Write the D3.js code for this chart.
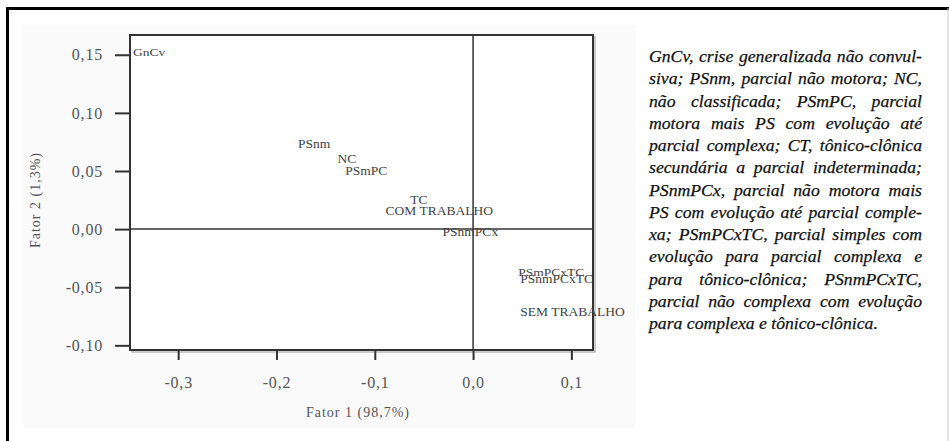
<!DOCTYPE html>
<html>
<head>
<meta charset="utf-8">
<script src="https://cdn.jsdelivr.net/npm/d3@7"></script>
<style>
  body { margin: 0; background: #fff; }
</style>
</head>
<body>
<svg id="chart" width="949" height="441"></svg>
<script>
// categories and their coordinates on the two factors
const labels = ["GnCv", "PSnm", "NC", "PSmPC", "TC", "COM TRABALHO", "PSnmPCx", "PSmPCxTC", "PSnmPCxTC", "SEM TRABALHO"];
const fator1 = [-0.346, -0.178, -0.138, -0.130, -0.064, -0.089, -0.031, 0.046, 0.048, 0.048];
const fator2 = [0.152, 0.074, 0.061, 0.051, 0.026, 0.016, -0.002, -0.037, -0.042, -0.071];

const xTicks = [-0.3, -0.2, -0.1, 0, 0.1];
const yTicks = [0.15, 0.10, 0.05, 0, -0.05, -0.10];
const xTitle = "Fator 1 (98,7%)";
const yTitle = "Fator 2 (1,3%)";

const notes = [
    "GnCv, crise generalizada não convul-",
    "siva; PSnm, parcial não motora; NC,",
    "não classificada; PSmPC, parcial",
    "motora mais PS com evolução até",
    "parcial complexa; CT, tônico-clônica",
    "secundária a parcial indeterminada;",
    "PSnmPCx, parcial não motora mais",
    "PS com evolução até parcial comple-",
    "xa; PSmPCxTC, parcial simples com",
    "evolução para parcial complexa e",
    "para tônico-clônica; PSnmPCxTC,",
    "parcial não complexa com evolução",
    "para complexa e tônico-clônica."
];

const serif = "'Liberation Serif', 'Times New Roman', Times, serif";

let svg = d3.select("#chart").attr("font-family", serif);

// page frame
svg.append("rect")
    .attr("x", 23).attr("y", 25).attr("width", 612).attr("height", 403)
    .attr("fill", "#fafafa");
svg.append("path")
    .attr("d", "M7.5,441 V8.5 H949")
    .attr("fill", "none").attr("stroke", "#000").attr("stroke-width", 3);
svg.append("line")
    .attr("x1", 948).attr("x2", 948).attr("y1", 8).attr("y2", 441)
    .attr("stroke", "#ccc");

// scales
let x = d3.scaleLinear().domain([-0.349, 0.122]).range([130, 593]);
let y = d3.scaleLinear().domain([-0.104, 0.167]).range([350, 35]);

const loc = d3.formatLocale({decimal: ",", thousands: ".", grouping: [3], currency: ["", ""], minus: "-"});

// plot box (with a faint shadow)
svg.append("rect")
    .attr("x", 132).attr("y", 37).attr("width", 463).attr("height", 315)
    .attr("fill", "none").attr("stroke", "#bbb").attr("stroke-width", 1.5);
svg.append("rect")
    .attr("x", 130).attr("y", 35).attr("width", 463).attr("height", 315)
    .attr("fill", "#fff").attr("stroke", "#333").attr("stroke-width", 2);

// zero lines
svg.append("line")
    .attr("x1", x(0)).attr("x2", x(0)).attr("y1", 35).attr("y2", 350)
    .attr("stroke", "#333").attr("stroke-width", 1.5);
svg.append("line")
    .attr("x1", 130).attr("x2", 593).attr("y1", y(0)).attr("y2", y(0))
    .attr("stroke", "#333").attr("stroke-width", 1.5);

// Y axis
let yAxis = svg.append("g")
    .attr("transform", "translate(130,0)")
    .call(d3.axisLeft(y).tickValues(yTicks).tickSize(15).tickPadding(12).tickFormat(loc.format(".2f")));
// X axis
let xAxis = svg.append("g")
    .attr("transform", "translate(0,350)")
    .call(d3.axisBottom(x).tickValues(xTicks).tickSize(10).tickPadding(17).tickFormat(loc.format(".1f")));

[xAxis, yAxis].forEach(ax => {
    ax.attr("font-family", serif).attr("font-size", 16);
    ax.select(".domain").remove();
    ax.selectAll(".tick line").attr("stroke", "#333").attr("stroke-width", 2);
    ax.selectAll(".tick text")
        .attr("fill", "#555")
        .attr("letter-spacing", 0.8);
});

// axis titles
svg.append("text")
    .attr("x", 358).attr("y", 417)
    .attr("text-anchor", "middle")
    .attr("fill", "#555")
    .attr("font-size", 14)
    .attr("letter-spacing", 1)
    .text(xTitle);
svg.append("text")
    .attr("transform", "translate(40,200)rotate(-90)")
    .attr("text-anchor", "middle")
    .attr("fill", "#555")
    .attr("font-size", 14)
    .attr("letter-spacing", 1)
    .text(yTitle);

// point labels (a couple of them are printed squashed in the original)
const squashed = new Set(["GnCv", "PSmPCxTC"]);
svg.append("g")
    .selectAll("text")
    .data(labels)
    .enter()
    .append("text")
        .attr("transform", (d, i) => `translate(${x(fator1[i])},${y(fator2[i])})` + (squashed.has(d) ? "scale(1,0.72)" : ""))
        .attr("dy", "0.35em")
        .attr("fill", "#444")
        .attr("font-size", 13.5)
        .text(d => d);

// justified note column
const colX = 649, colW = 273;
let note = svg.append("g")
    .attr("fill", "#111")
    .attr("stroke", "#111")
    .attr("stroke-width", 0.25)
    .attr("font-style", "italic")
    .attr("font-size", 17.7);

notes.forEach((line, i) => {
    let yy = 62 + i * 22.25;
    let words = line.split(" ");
    let nodes = words.map(w => note.append("text").attr("y", yy).text(w));
    let widths = nodes.map(n => n.node().getComputedTextLength());
    let gap = i === notes.length - 1 ? 4.4 : Math.max(1.5, (colW - d3.sum(widths)) / (words.length - 1));
    let xx = colX;
    nodes.forEach((n, j) => {
        n.attr("x", xx);
        xx += widths[j] + gap;
    });
});
</script>
</body>
</html>
